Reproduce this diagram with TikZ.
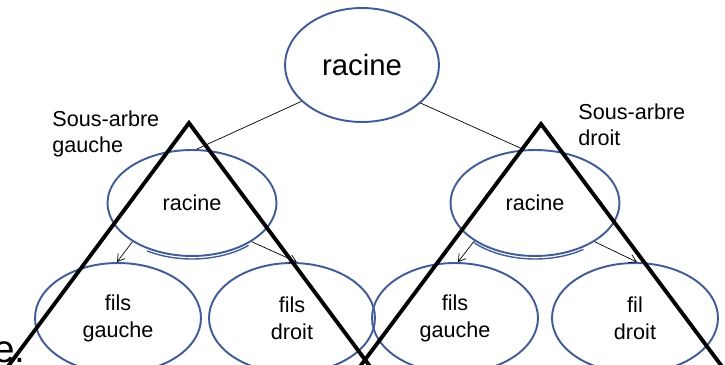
\documentclass[tikz,border=0pt]{standalone}
\usepackage{fontspec}
\setmainfont{Liberation Sans}
\usetikzlibrary{shapes.geometric,arrows.meta}
\definecolor{nodeblue}{RGB}{66,92,152}
\begin{document}
\begin{tikzpicture}[x=0.02cm,y=-0.02cm,
  bubble/.style={ellipse,draw=nodeblue,line width=1.1pt,inner sep=0pt,align=center,
    font=\fontsize{12.3}{15.3}\selectfont},
  bigbubble/.style={bubble,font=\fontsize{16.7}{20}\selectfont,minimum width=3.08cm,minimum height=2.28cm},
  midbubble/.style={bubble,minimum width=3.38cm,minimum height=2.12cm},
  leafbubble/.style={bubble,minimum width=3.32cm,minimum height=2.2cm},
  rim/.style={draw=nodeblue,line width=0.8pt},
  link/.style={line width=0.4pt},
  arrowlink/.style={line width=0.4pt,-{Straight Barb[length=4pt,width=5pt]}},
  subtree/.style={line width=2.2pt,line join=miter},
  caption/.style={anchor=north west,inner sep=0pt,align=left,font=\fontsize{12.3}{14.8}\selectfont}]
\useasboundingbox (0,0) rectangle (725,365);
\clip (0,0) rectangle (725,365);

% tree nodes
\node[bigbubble] (root) at (362,65) {racine};
\node[midbubble] (lroot) at (192,203) {racine};
\node[midbubble] (rroot) at (535,203) {racine};
\node[leafbubble] (lfg) at (118,318) {fils\\gauche};
\node[leafbubble] (lfd) at (292,318) {fils\\droit};
\node[leafbubble] (rfg) at (455,318) {fils\\gauche};
\node[leafbubble] (rfd) at (635,318) {fil\\droit};

% slightly doubled lower rims of the two sub-roots
\draw[rim] (192,206) ++(122:84.5 and 53) arc[start angle=122,end angle=48,x radius=84.5,y radius=53];
\draw[rim] (535,206) ++(136:84.5 and 53) arc[start angle=136,end angle=55,x radius=84.5,y radius=53];

% edges
\draw[link] (root.211) -- (lroot.85);
\draw[link] (root.327) -- (rroot.102);
\draw[arrowlink] (lroot.213) -- (lfg.91);
\draw[arrowlink] (lroot.327) -- (lfd.85);
\draw[arrowlink] (rroot.212) -- (rfg.87);
\draw[arrowlink] (rroot.327) -- (rfd.88);

% sub-tree outlines
\draw[subtree] (-17,400) -- (189,123) -- (395,400) -- cycle;
\draw[subtree] (335,400) -- (541,124) -- (747,400) -- cycle;

% captions
\node[caption] (lcap) at (52,110) {Sous-arbre\\gauche};
\node[caption] (rcap) at (578,103) {Sous-arbre\\droit};
\node[anchor=base east,inner sep=0pt,font=\fontsize{22}{26}\selectfont] (cut) at (26,362) {e.};
\end{tikzpicture}
\end{document}
